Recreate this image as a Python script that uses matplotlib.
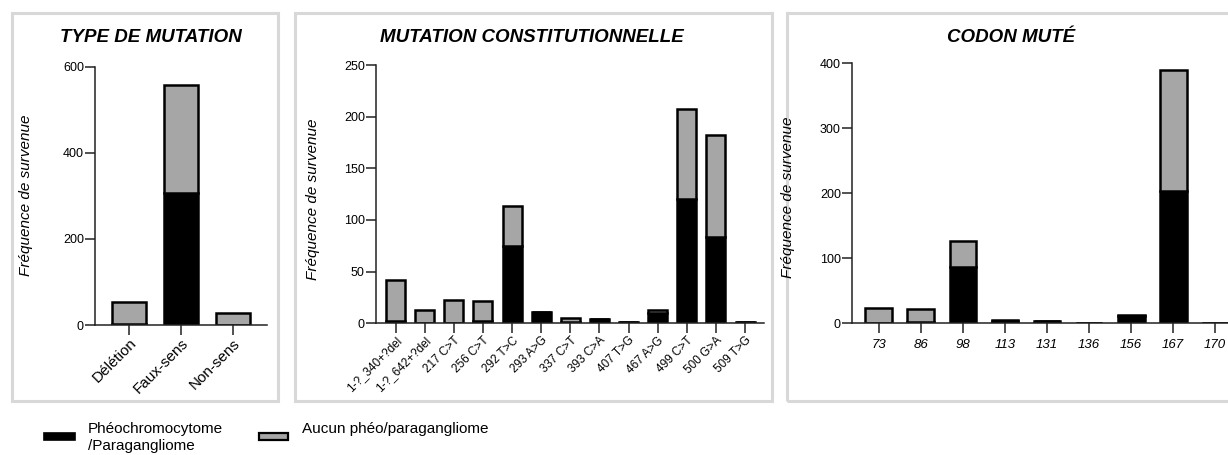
import matplotlib
matplotlib.use("Agg")
import matplotlib.pyplot as plt
from matplotlib.patches import Rectangle

plt.rcParams['font.family'] = ['Liberation Sans', 'DejaVu Sans']

# ---------------- data ----------------
type_cats = ["Délétion", "Faux-sens", "Non-sens"]
type_pheo = [2, 307, 0]
type_aucun = [52, 250, 27]

const_cats = ["1-?_340+?del", "1-?_642+?del", "217 C>T", "256 C>T", "292 T>C",
              "293 A>G", "337 C>T", "393 C>A", "407 T>G", "467 A>G",
              "499 C>T", "500 G>A", "509 T>G"]
const_pheo = [2, 0, 0, 2, 75, 11, 1, 4, 1, 10, 120, 84, 1]
const_aucun = [40, 13, 23, 20, 39, 0, 4, 0, 0, 3, 87, 98, 0]

codon_cats = ["73", "86", "98", "113", "131", "136", "156", "167", "170"]
codon_pheo = [0, 2, 86, 4, 3, 1, 12, 203, 1]
codon_aucun = [23, 20, 40, 1, 0, 0, 1, 186, 0]

titles = ["TYPE DE MUTATION", "MUTATION CONSTITUTIONNELLE", "CODON MUTÉ"]
ylabel = "Fréquence de survenue"
legend_labels = ["Phéochromocytome\n/Paragangliome", "Aucun phéo/paragangliome"]

GRAY = "#a6a6a6"
EDGE_LW = 1.8
W, H = 1228, 455

fig = plt.figure(figsize=(W / 100, H / 100), dpi=100)

def fx(px):
    return px / W

def fy(py):
    return 1 - py / H

# panel frames
for (x0, x1) in [(12, 278), (295, 772), (787, 1240)]:
    fr = Rectangle((fx(x0), fy(401)), fx(x1 - x0), (401 - 13) / H,
                   transform=fig.transFigure, fill=False,
                   edgecolor="#d8d8d8", linewidth=2.2, zorder=0)
    fig.add_artist(fr)

def make_axes(left_px, right_px, top_px, bottom_px):
    return fig.add_axes([fx(left_px), fy(bottom_px),
                         (right_px - left_px) / W, (bottom_px - top_px) / H])

def style(ax, ymax, step):
    for s in ["top", "right"]:
        ax.spines[s].set_visible(False)
    for s in ["left", "bottom"]:
        ax.spines[s].set_linewidth(1.1)
        ax.spines[s].set_color("#222222")
    ax.set_ylim(0, ymax)
    ax.set_yticks(range(0, ymax + 1, step))
    ax.tick_params(axis="both", direction="out", length=7, width=1.1,
                   color="#222222", labelsize=9, pad=1)
    ax.patch.set_alpha(0)

def draw(ax, cats, pheo, aucun, width=0.64):
    x = list(range(len(cats)))
    ax.bar(x, pheo, width=width, color="black", edgecolor="black",
           linewidth=EDGE_LW, zorder=2)
    ax.bar(x, aucun, width=width, bottom=pheo, color=GRAY, edgecolor="black",
           linewidth=EDGE_LW, zorder=2)
    ax.set_xticks(x)

# Panel 1
ax1 = make_axes(95, 267, 66.5, 325)
draw(ax1, type_cats, type_pheo, type_aucun)
style(ax1, 600, 200)
ax1.set_xlim(-0.654, 2.654)
ax1.set_xticklabels(type_cats, rotation=45, ha="right", rotation_mode="anchor",
                    fontsize=11)
ax1.set_ylabel(ylabel, fontsize=11, style="italic")
ax1.yaxis.set_label_coords(-0.36, 0.5)

# Panel 2
ax2 = make_axes(376, 764, 65, 323.3)
draw(ax2, const_cats, const_pheo, const_aucun, width=0.65)
style(ax2, 250, 50)
ax2.set_xlim(-0.67, 12.65)
ax2.set_xticklabels(const_cats, rotation=45, ha="right", rotation_mode="anchor",
                    fontsize=8.5)
ax2.set_ylabel(ylabel, fontsize=11, style="italic")
ax2.yaxis.set_label_coords(-0.144, 0.48)

# Panel 3
ax3 = make_axes(852, 1242, 63.3, 323.3)
draw(ax3, codon_cats, codon_pheo, codon_aucun)
style(ax3, 400, 100)
ax3.set_xlim(-0.64, 8.64)
ax3.set_xticklabels(codon_cats, fontsize=9.5, style="italic")
ax3.tick_params(axis="x", pad=4)
ax3.set_ylabel(ylabel, fontsize=11, style="italic")
ax3.yaxis.set_label_coords(-0.146, 0.485)

# Titles
for title, xc in zip(titles, [151, 532, 1011]):
    fig.text(fx(xc), fy(38), title, ha="center", va="center", fontsize=13.5,
             fontweight="bold", style="italic")

# Legend
fig.add_artist(Rectangle((fx(44), fy(440)), fx(31), 7 / H, transform=fig.transFigure,
                         facecolor="black", edgecolor="black", linewidth=1.2))
fig.text(fx(88), fy(422), legend_labels[0], ha="left", va="top", fontsize=11,
         linespacing=1.3)
fig.add_artist(Rectangle((fx(259), fy(440)), fx(29), 7 / H, transform=fig.transFigure,
                         facecolor=GRAY, edgecolor="black", linewidth=1.6))
fig.text(fx(302), fy(422), legend_labels[1], ha="left", va="top", fontsize=11)

fig.savefig("out.png", dpi=100)
